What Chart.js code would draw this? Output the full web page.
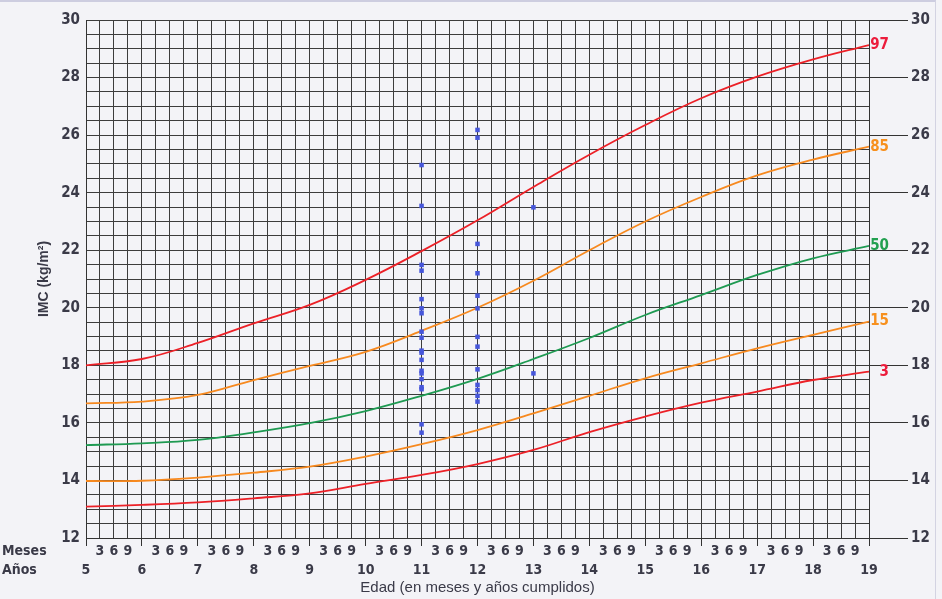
<!DOCTYPE html>
<html>
<head>
<meta charset="utf-8">
<script src="https://cdn.jsdelivr.net/npm/chart.js@4.4.1/dist/chart.umd.min.js"></script>
<style>
  html, body { margin: 0; padding: 0; background: #f3f3f7; }
  #wrap { position: relative; width: 942px; height: 599px; }
  #frame { position: absolute; left: 0; top: 0; width: 936px; height: 599px; box-sizing: border-box;
           border-top: 2px solid #cdcde0; border-right: 1px solid #d3d3e2; pointer-events: none; }
</style>
</head>
<body>
<div id="wrap">
  <canvas id="imc-chart" width="942" height="599"></canvas>
  <div id="frame"></div>
</div>
<script>
// ages (years) for the reference curves
const ages = [5, 6, 7, 8, 9, 10, 11, 12, 13, 14, 15, 16, 17, 18, 19];
const p97 = [18.0, 18.22, 18.78, 19.46, 20.1, 20.97, 21.97, 23.04, 24.2, 25.32, 26.35, 27.28, 28.03, 28.63, 29.13];
const p85 = [16.68, 16.74, 16.97, 17.49, 17.98, 18.47, 19.2, 20.0, 20.94, 22.0, 23.0, 23.85, 24.6, 25.15, 25.6];
const p50 = [15.23, 15.29, 15.41, 15.67, 15.99, 16.41, 16.94, 17.53, 18.22, 18.95, 19.75, 20.44, 21.14, 21.72, 22.15];
const p15 = [13.98, 13.99, 14.1, 14.27, 14.48, 14.83, 15.26, 15.75, 16.33, 16.94, 17.55, 18.07, 18.59, 19.06, 19.52];
const p3  = [13.09, 13.15, 13.24, 13.38, 13.55, 13.88, 14.19, 14.57, 15.06, 15.68, 16.22, 16.7, 17.09, 17.49, 17.78];

// measured children (blue points), grouped by age
const imc11 = [24.96, 23.54, 21.49, 21.29, 20.3, 19.98, 19.81, 19.17, 18.96, 18.51, 18.44, 18.19, 17.81, 17.72, 17.52, 17.24, 17.17, 15.95, 15.66];
const imc12 = [26.18, 25.91, 22.22, 21.2, 20.42, 19.98, 18.99, 18.65, 17.86, 17.32, 17.14, 16.94, 16.74];
const imc13 = [23.49, 17.72];

const monthLabels = ['3', '6', '9'];
const rowLabels = ['Meses', 'Años'];

const NARROW = "'DejaVu Sans Condensed', 'Liberation Sans', sans-serif";
const REGULAR = "'Liberation Sans', Arial, sans-serif";
const TEXT = '#3a3a48';
const GRID = '#3c3c3c';

const toXY = (xs, ys) => ys.map((v, i) => ({ x: xs[i], y: v }));
const atAge = (age, ys) => ys.map(v => ({ x: age, y: v }));

const points = [].concat(atAge(11, imc11), atAge(12, imc12), atAge(13, imc13));

function curve(label, data, color, textColor) {
  return {
    label: label,
    pLabel: label,
    pColor: textColor,
    data: toXY(ages, data),
    borderColor: color,
    borderWidth: 1.8,
    pointRadius: 0,
    fill: false,
    tension: 0.4
  };
}

const percentileLabels = {
  id: 'percentileLabels',
  afterDatasetsDraw(chart) {
    const ctx = chart.ctx;
    ctx.save();
    ctx.font = "bold 15px " + NARROW;
    ctx.textAlign = 'right';
    ctx.textBaseline = 'middle';
    chart.data.datasets.forEach((ds, i) => {
      if (!ds.pLabel) return;
      const meta = chart.getDatasetMeta(i);
      const last = meta.data[meta.data.length - 1];
      ctx.fillStyle = ds.pColor;
      ctx.fillText(ds.pLabel, last.x + 20, last.y);
    });
    ctx.restore();
  }
};

const rowNames = {
  id: 'rowNames',
  afterDraw(chart) {
    const ctx = chart.ctx;
    ctx.save();
    ctx.font = "bold 14px " + NARROW;
    ctx.fillStyle = TEXT;
    ctx.textAlign = 'left';
    ctx.textBaseline = 'middle';
    ctx.fillText(rowLabels[0], 2, 551);
    ctx.fillText(rowLabels[1], 2, 570);
    ctx.restore();
  }
};

const ctx = document.getElementById('imc-chart').getContext('2d');
new Chart(ctx, {
  type: 'line',
  data: {
    datasets: [
      {
        label: 'IMC',
        data: points,
        showLine: false,
        pointStyle: 'rect',
        pointRadius: 3.2,
        pointBackgroundColor: '#4656da',
        pointBorderWidth: 0
      },
      curve('97', p97, '#ec2027', '#ec1c3c'),
      curve('85', p85, '#f7891f', '#f7901e'),
      curve('50', p50, '#1e9a52', '#22a050'),
      curve('15', p15, '#f7891f', '#f7901e'),
      curve('3', p3, '#ec2027', '#ec1c3c')
    ]
  },
  options: {
    responsive: false,
    animation: false,
    layout: { padding: { top: 20, left: 0, right: 0, bottom: 0 } },
    plugins: { legend: { display: false }, tooltip: { enabled: false } },
    scales: {
      x: {
        type: 'linear',
        min: 5,
        max: 19,
        afterFit(s) { s.height = 61; },
        ticks: {
          stepSize: 0.25,
          autoSkip: false,
          maxRotation: 0,
          minRotation: 0,
          padding: -4,
          color: TEXT,
          font: { family: NARROW, size: 14, weight: 'bold', lineHeight: 1.36 },
          callback(v) {
            const yr = Math.floor(v + 1e-6);
            const q = Math.round((v - yr) * 4);
            return q === 0 ? ['', String(yr)] : [monthLabels[q - 1], ''];
          }
        },
        grid: {
          color: GRID,
          lineWidth: 1,
          tickLength: 8,
          tickColor: c => (Math.abs(c.tick.value - Math.round(c.tick.value)) < 1e-6 ? '#333' : 'rgba(0,0,0,0)')
        },
        border: { color: '#333' },
        title: {
          display: true,
          text: 'Edad (en meses y años cumplidos)',
          color: TEXT,
          font: { family: REGULAR, size: 15, lineHeight: 1.2 },
          padding: { top: 0, bottom: 2 }
        }
      },
      y: {
        position: 'left',
        min: 12,
        max: 30,
        afterFit(s) { s.width = 86; },
        ticks: {
          stepSize: 0.5,
          autoSkip: false,
          padding: 6,
          color: TEXT,
          font: { family: NARROW, size: 15, weight: 'bold' },
          callback: v => (Math.abs(v % 2) < 1e-6 ? String(v) : '')
        },
        grid: { color: GRID, lineWidth: 1, drawTicks: false },
        border: { color: '#333' },
        title: {
          display: true,
          text: 'IMC (kg/m²)',
          color: TEXT,
          font: { family: REGULAR, size: 14, weight: 'bold', lineHeight: 1.2 },
          padding: { top: 36, bottom: 0 }
        }
      },
      y2: {
        position: 'right',
        min: 12,
        max: 30,
        afterFit(s) { s.width = 73; },
        ticks: {
          stepSize: 2,
          padding: 3,
          color: TEXT,
          font: { family: NARROW, size: 15, weight: 'bold' }
        },
        grid: { drawOnChartArea: false, tickLength: 39, tickColor: '#333', lineWidth: 1 },
        border: { color: '#333' }
      }
    }
  },
  plugins: [percentileLabels, rowNames]
});
</script>
</body>
</html>
